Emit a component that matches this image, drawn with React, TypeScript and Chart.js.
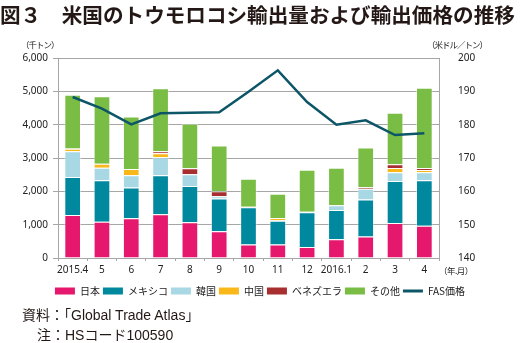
import React, { useEffect, useRef } from "react";
import { Chart, registerables } from "chart.js";
Chart.register(...registerables);

const categories = ["2015.4", "5", "6", "7", "8", "9", "10", "11", "12", "2016.1", "2", "3", "4"];
const japan = [1290, 1090, 1190, 1310, 1070, 800, 405, 405, 330, 565, 645, 1050, 970];
const mexico = [1140, 1240, 925, 1170, 1090, 985, 1115, 715, 1040, 875, 1110, 1260, 1360];
const korea = [775, 380, 365, 545, 350, 70, 0, 10, 15, 145, 320, 260, 240];
const china = [70, 120, 190, 120, 0, 0, 0, 70, 0, 0, 0, 130, 70];
const venezuela = [10, 0, 0, 60, 180, 150, 20, 0, 0, 0, 50, 110, 60];
const others = [1610, 2020, 1575, 1885, 1340, 1370, 840, 725, 1260, 1125, 1190, 1545, 2410];
const fasPrice = [188.3, 184.8, 180.1, 183.4, 183.6, 183.7, 189.9, 196.3, 186.8, 180.0, 181.3, 176.9, 177.4];

const GRID = "#A6A6A6";
const TEXT = "#222222";

export default function App() {
  const ref = useRef<HTMLCanvasElement>(null);

  useEffect(() => {
    const tickFont = { family: "'Noto Sans', sans-serif", size: 10 };
    const bar = (label: string, data: number[], color: string) => ({
      type: "bar" as const,
      label,
      data,
      backgroundColor: color,
      borderColor: "rgba(255,255,255,0.45)",
      borderWidth: 1,
      yAxisID: "y",
      stack: "s",
      order: 1,
      barPercentage: 0.57,
      categoryPercentage: 1,
      pointStyle: "rect",
    });
    const chart = new Chart(ref.current as HTMLCanvasElement, {
      type: "bar",
      data: {
        labels: categories,
        datasets: [
          bar("日本", japan, "#E5186E"),
          bar("メキシコ", mexico, "#00889F"),
          bar("韓国", korea, "#A8D8E3"),
          bar("中国", china, "#F9B81A"),
          bar("ベネズエラ", venezuela, "#A72F2F"),
          bar("その他", others, "#7ABD44"),
          {
            type: "line" as const,
            label: "FAS価格",
            data: fasPrice,
            borderColor: "#0D5667",
            backgroundColor: "#0D5667",
            borderWidth: 2.5,
            pointRadius: 0,
            yAxisID: "y1",
            order: 0,
            tension: 0,
            pointStyle: "line",
          } as any,
        ] as any,
      },
      options: {
        animation: false,
        responsive: false,
        layout: { padding: { top: 58, bottom: 37, left: 0, right: 0 } },
        scales: {
          x: {
            stacked: true,
            offset: true,
            grid: { drawOnChartArea: false, offset: true, tickLength: 3, color: GRID },
            border: { color: GRID },
            ticks: { font: tickFont, color: TEXT, padding: 3, maxRotation: 0, autoSkip: false },
            afterFit: (s: any) => {
              s.height = 25;
            },
          },
          y: {
            stacked: true,
            min: 0,
            max: 6000,
            ticks: {
              stepSize: 1000,
              font: tickFont,
              color: TEXT,
              padding: 5,
              callback: (v: any) => Number(v).toLocaleString("en-US"),
            },
            grid: { color: GRID, tickLength: 5 },
            border: { color: GRID },
            afterFit: (s: any) => {
              s.width = 58;
            },
          },
          y1: {
            position: "right",
            min: 140,
            max: 200,
            ticks: { stepSize: 10, font: tickFont, color: TEXT, padding: 11 },
            grid: { display: false },
            border: { display: true, color: GRID },
            afterFit: (s: any) => {
              s.width = 81;
            },
          },
        },
        plugins: {
          legend: {
            position: "bottom",
            labels: {
              usePointStyle: true,
              pointStyleWidth: 20,
              boxHeight: 7,
              padding: 3,
              color: TEXT,
              font: { family: "'Noto Sans CJK JP', sans-serif", size: 10 },
              sort: (a: any, b: any) => a.datasetIndex - b.datasetIndex,
              generateLabels: (c: any) => {
                const items = (Chart.defaults.plugins.legend.labels as any).generateLabels(c);
                return items.map((it: any) => {
                  if (it.pointStyle !== "line") {
                    it.strokeStyle = it.fillStyle;
                    it.lineWidth = 0;
                    it.pointStyle = "rect";
                  } else {
                    it.lineWidth = 3;
                  }
                  return it;
                });
              },
            },
          },
          tooltip: { enabled: false },
        },
      } as any,
    });
    return () => chart.destroy();
  }, []);

  const jp = "'Liberation Sans', 'Noto Sans CJK JP', sans-serif";
  return (
    <div style={{ position: "absolute", left: 0, top: 0, width: 520, height: 343, background: "#fff", overflow: "hidden" }}>
      <canvas ref={ref} width={520} height={343} style={{ position: "absolute", left: 0, top: 0, width: 520, height: 343 }} />
      <div
        style={{
          position: "absolute",
          left: 0,
          top: 0,
          fontFamily: "'Noto Sans CJK JP', sans-serif",
          fontWeight: 700,
          fontSize: 20.6,
          lineHeight: "28px",
          color: "#231815",
          whiteSpace: "nowrap",
        }}
      >
        図３　米国のトウモロコシ輸出量および輸出価格の推移
      </div>
      <div style={{ position: "absolute", left: 21, top: 37, fontFamily: "'Noto Sans CJK JP'", fontSize: 8.5, letterSpacing: -1, lineHeight: "14px", color: TEXT, whiteSpace: "nowrap" }}>
        （千トン）
      </div>
      <div style={{ position: "absolute", left: 427, top: 37, fontFamily: "'Noto Sans CJK JP'", fontSize: 8.5, letterSpacing: -1, lineHeight: "14px", color: TEXT, whiteSpace: "nowrap" }}>
        （米ドル／トン）
      </div>
      <div style={{ position: "absolute", left: 439, top: 263, fontFamily: "'Noto Sans CJK JP'", fontSize: 8.5, letterSpacing: -0.5, lineHeight: "14px", color: TEXT, whiteSpace: "nowrap" }}>
        （年.月）
      </div>
      <div style={{ position: "absolute", left: 22, top: 305, fontFamily: jp, fontSize: 14, lineHeight: "20px", color: "#231815", whiteSpace: "nowrap" }}>
        資料：「Global Trade Atlas」
      </div>
      <div style={{ position: "absolute", left: 37, top: 325, fontFamily: jp, fontSize: 14, lineHeight: "20px", color: "#231815", whiteSpace: "nowrap" }}>
        注：HSコード100590
      </div>
    </div>
  );
}
